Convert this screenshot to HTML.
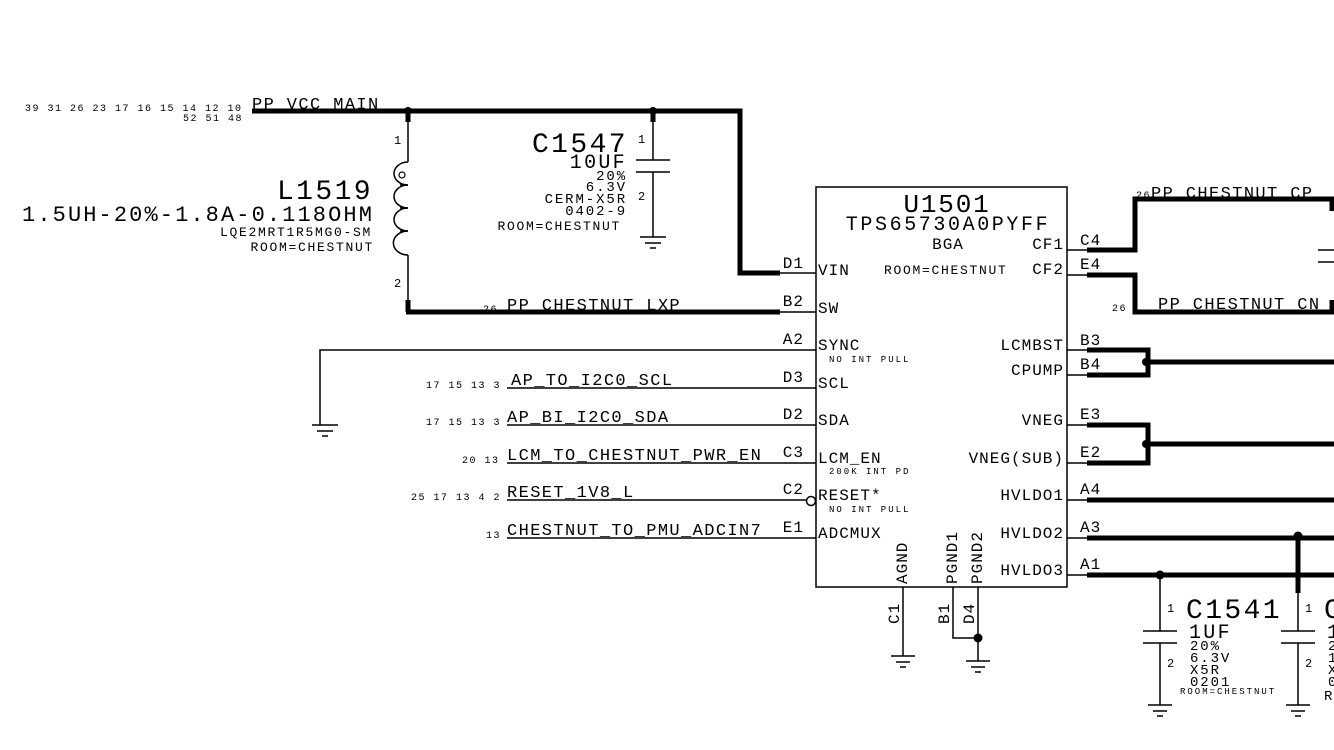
<!DOCTYPE html>
<html><head><meta charset="utf-8"><style>
html,body{margin:0;padding:0;background:#fff;}
svg{display:block;}
text{font-family:"Liberation Mono","DejaVu Sans Mono",monospace;fill:#000;}
.net{font-size:17px;letter-spacing:1.4px;}
.pin{font-size:16px;letter-spacing:1px;}
.num{font-size:10px;letter-spacing:1.5px;}
.sm{font-size:9px;letter-spacing:2px;}
.room{font-size:13px;letter-spacing:1.7px;}
.val{font-size:14px;letter-spacing:1.9px;}
.ref{font-size:28px;letter-spacing:2.4px;}
</style></head><body>
<svg width="1334" height="750" viewBox="0 0 1334 750" xmlns="http://www.w3.org/2000/svg">
<g stroke="#000" fill="none" stroke-linecap="butt">
<polyline points="252,111 740,111 740,273 780,273" stroke-width="5"/>
<line x1="780" y1="273" x2="816" y2="273" stroke-width="1.5"/>
<line x1="408" y1="111" x2="408" y2="122" stroke-width="5"/>
<line x1="653" y1="111" x2="653" y2="122" stroke-width="5"/>
<line x1="408" y1="122" x2="408" y2="162" stroke-width="1.5"/>
<path d="M408,162 A14,11.5 0 0 0 408,185 A14,11.5 0 0 0 408,208 A14,11.5 0 0 0 408,231 A14,11.5 0 0 0 408,255" stroke-width="1.5"/>
<line x1="400" y1="185" x2="408" y2="185" stroke-width="1.5"/>
<line x1="400" y1="208" x2="408" y2="208" stroke-width="1.5"/>
<line x1="400" y1="231" x2="408" y2="231" stroke-width="1.5"/>
<circle cx="402" cy="175" r="3" stroke-width="1.2"/>
<line x1="408" y1="255" x2="408" y2="301" stroke-width="1.5"/>
<line x1="408" y1="300" x2="408" y2="312" stroke-width="5"/>
<line x1="406" y1="312" x2="780" y2="312" stroke-width="5"/>
<line x1="780" y1="312" x2="816" y2="312" stroke-width="1.5"/>
<line x1="653" y1="122" x2="653" y2="160" stroke-width="1.5"/>
<line x1="636" y1="160" x2="670" y2="160" stroke-width="1.5"/>
<line x1="636" y1="172" x2="670" y2="172" stroke-width="1.5"/>
<line x1="653" y1="172" x2="653" y2="237" stroke-width="1.5"/>
<line x1="640" y1="237" x2="666" y2="237" stroke-width="1.5"/>
<line x1="645" y1="243" x2="661" y2="243" stroke-width="1.5"/>
<line x1="650" y1="248" x2="656" y2="248" stroke-width="1.5"/>
<rect x="816" y="187" width="251" height="400" stroke-width="1.5"/>
<polyline points="816,350 320,350 320,425" stroke-width="1.5"/>
<line x1="312" y1="425" x2="338" y2="425" stroke-width="1.5"/>
<line x1="317" y1="431" x2="333" y2="431" stroke-width="1.5"/>
<line x1="322" y1="436" x2="328" y2="436" stroke-width="1.5"/>
<line x1="507" y1="388" x2="816" y2="388" stroke-width="1.5"/>
<line x1="507" y1="425" x2="816" y2="425" stroke-width="1.5"/>
<line x1="507" y1="463" x2="816" y2="463" stroke-width="1.5"/>
<line x1="507" y1="500" x2="811" y2="500" stroke-width="1.5"/>
<circle cx="811" cy="501" r="4.5" stroke-width="1.5" fill="#fff"/>
<line x1="507" y1="538" x2="816" y2="538" stroke-width="1.5"/>
<g stroke-width="1.5">
<line x1="1067" y1="250" x2="1087" y2="250"/>
<line x1="1067" y1="275" x2="1087" y2="275"/>
<line x1="1067" y1="350" x2="1087" y2="350"/>
<line x1="1067" y1="375" x2="1087" y2="375"/>
<line x1="1067" y1="425" x2="1087" y2="425"/>
<line x1="1067" y1="463" x2="1087" y2="463"/>
<line x1="1067" y1="500" x2="1087" y2="500"/>
<line x1="1067" y1="538" x2="1087" y2="538"/>
<line x1="1067" y1="575" x2="1087" y2="575"/>
</g>
<g stroke-width="5">
<polyline points="1087,250 1135,250 1135,199 1334,199"/>
<polyline points="1087,275 1135,275 1135,312 1334,312"/>
<line x1="1332" y1="199" x2="1332" y2="211"/>
<line x1="1332" y1="300" x2="1332" y2="312"/>
<polyline points="1087,350 1148,350 1148,375 1087,375"/>
<line x1="1148" y1="362" x2="1334" y2="362"/>
<polyline points="1087,425 1148,425 1148,463 1087,463"/>
<line x1="1148" y1="444" x2="1334" y2="444"/>
<line x1="1087" y1="500" x2="1334" y2="500"/>
<line x1="1087" y1="538" x2="1334" y2="538"/>
<line x1="1087" y1="575" x2="1334" y2="575"/>
<line x1="1298" y1="535" x2="1298" y2="593"/>
</g>
<line x1="1318" y1="250" x2="1334" y2="250" stroke-width="1.5"/>
<line x1="1318" y1="262" x2="1334" y2="262" stroke-width="1.5"/>
<g stroke-width="1.5">
<line x1="1160" y1="575" x2="1160" y2="631"/>
<line x1="1143" y1="631" x2="1177" y2="631"/>
<line x1="1143" y1="643" x2="1177" y2="643"/>
<line x1="1160" y1="643" x2="1160" y2="705"/>
<line x1="1148" y1="705" x2="1172" y2="705"/>
<line x1="1153" y1="711" x2="1167" y2="711"/>
<line x1="1157" y1="716" x2="1163" y2="716"/>
<line x1="1298" y1="593" x2="1298" y2="631"/>
<line x1="1281" y1="631" x2="1315" y2="631"/>
<line x1="1281" y1="643" x2="1315" y2="643"/>
<line x1="1298" y1="643" x2="1298" y2="705"/>
<line x1="1286" y1="705" x2="1310" y2="705"/>
<line x1="1291" y1="711" x2="1305" y2="711"/>
<line x1="1295" y1="716" x2="1301" y2="716"/>
<line x1="903" y1="587" x2="903" y2="656"/>
<line x1="891" y1="656" x2="915" y2="656"/>
<line x1="896" y1="662" x2="910" y2="662"/>
<line x1="900" y1="667" x2="906" y2="667"/>
<polyline points="953,587 953,638 978,638"/>
<line x1="978" y1="587" x2="978" y2="661"/>
<line x1="966" y1="661" x2="990" y2="661"/>
<line x1="971" y1="667" x2="985" y2="667"/>
<line x1="975" y1="672" x2="981" y2="672"/>
</g>
</g>
<g fill="#000">
<circle cx="408" cy="111" r="4"/><circle cx="653" cy="111" r="4"/>
<circle cx="1146" cy="362" r="4"/><circle cx="1146" cy="444" r="4"/>
<circle cx="1298" cy="536" r="4.5"/><circle cx="1160" cy="575" r="4.5"/>
<circle cx="978" cy="638" r="4.5"/>
</g>
<g class="num">
<text x="25" y="111">39 31 26 23 17 16 15 14 12 10</text>
<text x="183" y="121">52 51 48</text>
<text x="483" y="312">26</text>
<text x="1136" y="198">26</text>
<text x="1112" y="311">26</text>
<text x="426" y="388">17 15 13 3</text>
<text x="426" y="425">17 15 13 3</text>
<text x="462" y="463">20 13</text>
<text x="411" y="500">25 17 13 4 2</text>
<text x="486" y="538">13</text>
</g>
<g class="net">
<text x="252" y="109">PP_VCC_MAIN</text>
<text x="507" y="310">PP_CHESTNUT_LXP</text>
<text x="1151" y="198">PP_CHESTNUT_CP</text>
<text x="1158" y="309">PP_CHESTNUT_CN</text>
<text x="511" y="385">AP_TO_I2C0_SCL</text>
<text x="507" y="422">AP_BI_I2C0_SDA</text>
<text x="507" y="460">LCM_TO_CHESTNUT_PWR_EN</text>
<text x="507" y="497">RESET_1V8_L</text>
<text x="507" y="535">CHESTNUT_TO_PMU_ADCIN7</text>
</g>
<g font-size="12">
<text x="394" y="144">1</text><text x="394" y="287">2</text>
<text x="638" y="143">1</text><text x="638" y="200">2</text>
<text x="1167" y="612">1</text><text x="1167" y="667">2</text>
<text x="1305" y="612">1</text><text x="1305" y="667">2</text>
</g>
<text x="373" y="199" class="ref" text-anchor="end">L1519</text>
<text x="374" y="221" font-size="22" letter-spacing="2.1" text-anchor="end">1.5UH-20%-1.8A-0.118OHM</text>
<text x="372" y="236" class="room" text-anchor="end">LQE2MRT1R5MG0-SM</text>
<text x="374" y="251" class="room" text-anchor="end">ROOM=CHESTNUT</text>
<text x="628" y="152" class="ref" text-anchor="end">C1547</text>
<text x="627" y="168" font-size="20" letter-spacing="2.3" text-anchor="end">10UF</text>
<g class="val" text-anchor="end">
<text x="627" y="180">20%</text><text x="627" y="191">6.3V</text>
<text x="627" y="203">CERM-X5R</text><text x="627" y="215">0402-9</text>
</g>
<text x="621" y="230" class="room" text-anchor="end">ROOM=CHESTNUT</text>
<text x="947" y="212" font-size="26" letter-spacing="1.8" text-anchor="middle">U1501</text>
<text x="948" y="230" font-size="20" letter-spacing="2.6" text-anchor="middle">TPS65730A0PYFF</text>
<g class="pin">
<text x="948" y="249" text-anchor="middle">BGA</text>
<text x="1064" y="249" text-anchor="end">CF1</text>
<text x="1064" y="274" text-anchor="end">CF2</text>
<text x="1064" y="350" text-anchor="end">LCMBST</text>
<text x="1064" y="375" text-anchor="end">CPUMP</text>
<text x="1064" y="425" text-anchor="end">VNEG</text>
<text x="1064" y="463" text-anchor="end">VNEG(SUB)</text>
<text x="1064" y="500" text-anchor="end">HVLDO1</text>
<text x="1064" y="538" text-anchor="end">HVLDO2</text>
<text x="1064" y="575" text-anchor="end">HVLDO3</text>
<text x="818" y="275">VIN</text><text x="818" y="313">SW</text>
<text x="818" y="350">SYNC</text><text x="818" y="388">SCL</text>
<text x="818" y="425">SDA</text><text x="818" y="463">LCM_EN</text>
<text x="818" y="500">RESET*</text><text x="818" y="538">ADCMUX</text>
<text x="804" y="268" text-anchor="end">D1</text><text x="804" y="306" text-anchor="end">B2</text>
<text x="804" y="344" text-anchor="end">A2</text><text x="804" y="382" text-anchor="end">D3</text>
<text x="804" y="419" text-anchor="end">D2</text><text x="804" y="457" text-anchor="end">C3</text>
<text x="804" y="494" text-anchor="end">C2</text><text x="804" y="532" text-anchor="end">E1</text>
<text x="1080" y="245">C4</text><text x="1080" y="269">E4</text>
<text x="1080" y="345">B3</text><text x="1080" y="369">B4</text>
<text x="1080" y="419">E3</text><text x="1080" y="457">E2</text>
<text x="1080" y="494">A4</text><text x="1080" y="532">A3</text>
<text x="1080" y="569">A1</text>
</g>
<text x="884" y="274" class="room">ROOM=CHESTNUT</text>
<g class="sm">
<text x="829" y="362">NO INT PULL</text>
<text x="829" y="474">200K INT PD</text>
<text x="829" y="512">NO INT PULL</text>
</g>
<g class="pin">
<text transform="translate(907,584) rotate(-90)">AGND</text>
<text transform="translate(957,584) rotate(-90)">PGND1</text>
<text transform="translate(982,584) rotate(-90)">PGND2</text>
<text transform="translate(899,624) rotate(-90)">C1</text>
<text transform="translate(949,624) rotate(-90)">B1</text>
<text transform="translate(974,624) rotate(-90)">D4</text>
</g>
<text x="1186" y="618" class="ref">C1541</text>
<text x="1324" y="618" class="ref">C</text>
<text x="1189" y="638" font-size="20" letter-spacing="2.3">1UF</text>
<text x="1327" y="638" font-size="20">1</text>
<g class="val">
<text x="1190" y="650">20%</text><text x="1190" y="662">6.3V</text>
<text x="1190" y="674">X5R</text><text x="1190" y="686">0201</text>
<text x="1328" y="650">2</text><text x="1328" y="662">1</text>
<text x="1328" y="674">X</text><text x="1328" y="686">0</text>
<text x="1324" y="700">R</text>
</g>
<text x="1180" y="694" class="sm">ROOM=CHESTNUT</text>
</svg>
</body></html>
